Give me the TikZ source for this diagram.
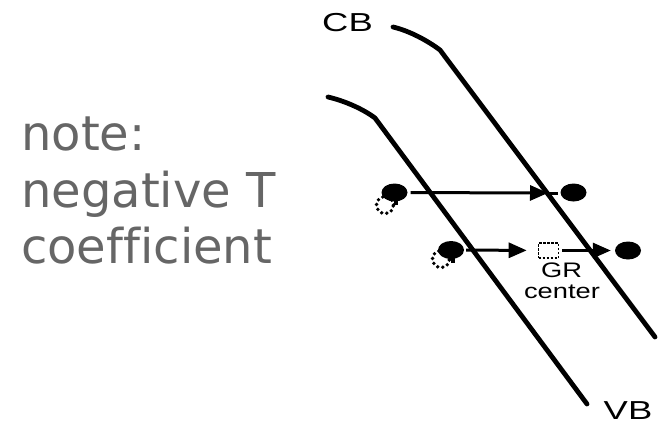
\documentclass[tikz,border=0pt]{standalone}
\usepackage{fontspec}
\setmainfont{Liberation Sans}
\newfontfamily\notefont[Ligatures=NoCommon]{DejaVu Sans}
\usetikzlibrary{arrows.meta,shapes.geometric}
\definecolor{notegray}{RGB}{102,102,102}
\begin{document}
\begin{tikzpicture}[x=1pt,y=-1pt,
  band/.style={line width=4.8pt,line cap=round,line join=round},
  arr/.style={line width=3pt,-{Triangle[length=18pt,width=15pt]}},
  plain/.style={line width=3pt},
  edot/.style={ellipse,fill=black,inner sep=0pt,minimum width=26pt,minimum height=18pt},
  hole/.style={circle,draw=black,line cap=round,dash pattern=on 0pt off 5.2pt,line width=3.8pt,inner sep=0pt,minimum size=17pt},
  grbox/.style={draw=black,dash pattern=on 2.5pt off 1.5pt,line width=1.6pt,minimum width=20pt,minimum height=15pt,inner sep=0pt},
  notetxt/.style={anchor=base west,inner sep=0pt,text=notegray,font=\notefont\fontsize{48}{56}\selectfont},
  lbl/.style={inner sep=0pt,font=\fontsize{26}{30}\selectfont},
  small/.style={anchor=base,inner sep=0pt,font=\fontsize{21}{25}\selectfont}]
\useasboundingbox (0,0) rectangle (658,426);
\fill[white] (0,0) rectangle (658,426);

% note text
\node[notetxt] (n1) at (21,150) {note:};
\node[notetxt] (n2) at (21,207) {negative T};
\node[notetxt] (n3) at (21,263) {coefficient};

% bands
\coordinate (cb0) at (393,27);
\coordinate (cb1) at (440,50);
\coordinate (cb2) at (655,337);
\coordinate (vb0) at (328,97);
\coordinate (vb1) at (375,118);
\coordinate (vb2) at (587,404);
\draw[band] (cb0) .. controls (410,31) and (428,41) .. (cb1) -- (cb2);
\draw[band] (vb0) .. controls (345,101) and (363,109) .. (vb1) -- (vb2);

\node[lbl] (cb) at (347.5,23) {\scalebox{1.4}[1]{CB}};
\node[lbl] (vb) at (628,411) {\scalebox{1.4}[1]{VB}};

% row 1
\node[hole] (h1) at (385,205) {};
\node[edot] (e1) at (394.5,192.5) {};
\draw[line width=3.4pt] (396,199) -- (396,205);
\node[edot] (f1) at (573.5,192.5) {};
\coordinate (t1) at (548,193);
\draw[arr,shorten <=3pt] (e1) -- (t1);
\draw[plain] (t1) -- (558,193);

% row 2
\node[hole] (h2) at (441,259) {};
\node[edot] (e2) at (451,250) {};
\draw[line width=3.4pt] (453,257) -- (453,263);
\node[grbox] (sq) at (548.5,250.5) {};
\node[edot] (f2) at (628,250.5) {};
\draw[arr,shorten <=2pt,shorten >=11pt] (e2) -- (sq);
\draw[arr,shorten <=3pt,shorten >=4pt] (sq) -- (f2);

\node[small] (gr) at (561.5,277) {\scalebox{1.3}[1]{GR}};
\node[small] (grc) at (562,298) {\scalebox{1.3}[1]{center}};
\end{tikzpicture}
\end{document}
